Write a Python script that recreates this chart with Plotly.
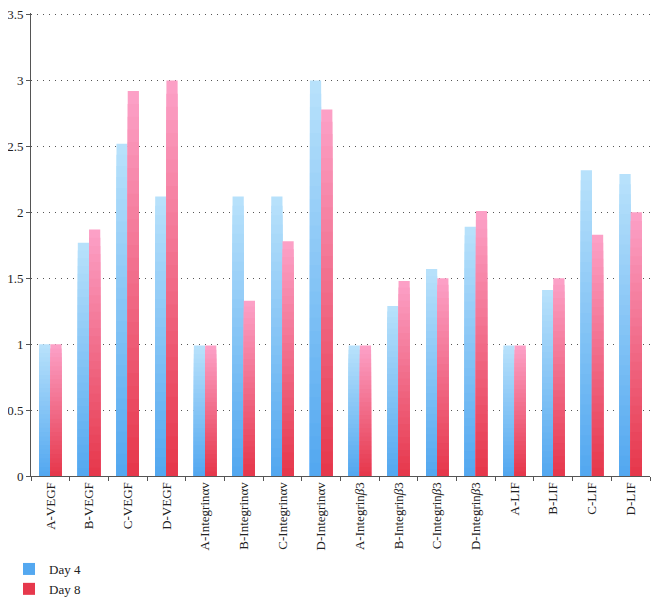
import plotly.graph_objects as go

categories = ["A-VEGF", "B-VEGF", "C-VEGF", "D-VEGF",
              "A-Integrinαv", "B-Integrinαv", "C-Integrinαv", "D-Integrinαv",
              "A-Integrin<i>β</i>3", "B-Integrin<i>β</i>3", "C-Integrin<i>β</i>3", "D-Integrin<i>β</i>3",
              "A-LIF", "B-LIF", "C-LIF", "D-LIF"]
day4 = [1.0, 1.77, 2.52, 2.12, 0.99, 2.12, 2.12, 3.0, 0.99, 1.29, 1.57, 1.89, 0.99, 1.41, 2.32, 2.29]
day8 = [1.0, 1.87, 2.92, 3.0, 0.99, 1.33, 1.78, 2.78, 0.99, 1.48, 1.50, 2.01, 0.99, 1.50, 1.83, 2.00]
series_names = ["Day 4", "Day 8"]

# gradient colour stops (top -> bottom)
series_colors = [((183, 225, 251), (84, 168, 240)),
                 ((252, 160, 198), (230, 56, 76))]

N = 30
fig = go.Figure()
for s, (name, vals, (top, bot)) in enumerate(zip(series_names, [day4, day8], series_colors)):
    for k in range(N):
        t = k / (N - 1)
        c = tuple(round(top[i] + (bot[i] - top[i]) * t) for i in range(3))
        frac = (N - k) / N
        fig.add_trace(go.Bar(
            x=categories,
            y=[v * frac for v in vals],
            name=name,
            offsetgroup=str(s),
            legendgroup=name,
            showlegend=(k == N - 1),
            marker=dict(color="rgb(%d,%d,%d)" % c, line=dict(width=0)),
            hoverinfo="skip",
        ))

W, H = 651, 598
fig.update_layout(
    width=W, height=H,
    margin=dict(l=23, r=9, t=5, b=130, autoexpand=False),
    barmode="group",
    bargap=0.42,
    bargroupgap=0.0,
    plot_bgcolor="white",
    paper_bgcolor="white",
    font=dict(family="Liberation Serif", size=13, color="#222"),
    legend=dict(xref="container", yref="container", x=1/W, y=1-546/H,
                xanchor="left", yanchor="top",
                font=dict(family="Liberation Serif", size=13, color="#222"),
                tracegroupgap=0, itemwidth=30, bgcolor="rgba(0,0,0,0)"),
    xaxis=dict(type="category", tickangle=-90, tickson="boundaries",
               ticks="outside", ticklen=4, tickcolor="#555",
               showline=True, linecolor="#555", linewidth=1,
               showgrid=False, tickfont=dict(size=13), automargin=False,
               ticklabeloverflow="allow"),
    yaxis=dict(range=[0, 3.512], tickvals=[0, 0.5, 1, 1.5, 2, 2.5, 3, 3.5],
               ticktext=["0", "0.5", "1", "1.5", "2", "2.5", "3", "3.5"],
               ticks="outside", ticklen=4, tickcolor="#555",
               showline=True, linecolor="#555", linewidth=1,
               showgrid=True, gridcolor="#555", griddash="1px 5px", gridwidth=1,
               zeroline=False, tickfont=dict(size=13), automargin=False,
               ticklabeloverflow="allow"),
)

fig.write_html("out.html")
